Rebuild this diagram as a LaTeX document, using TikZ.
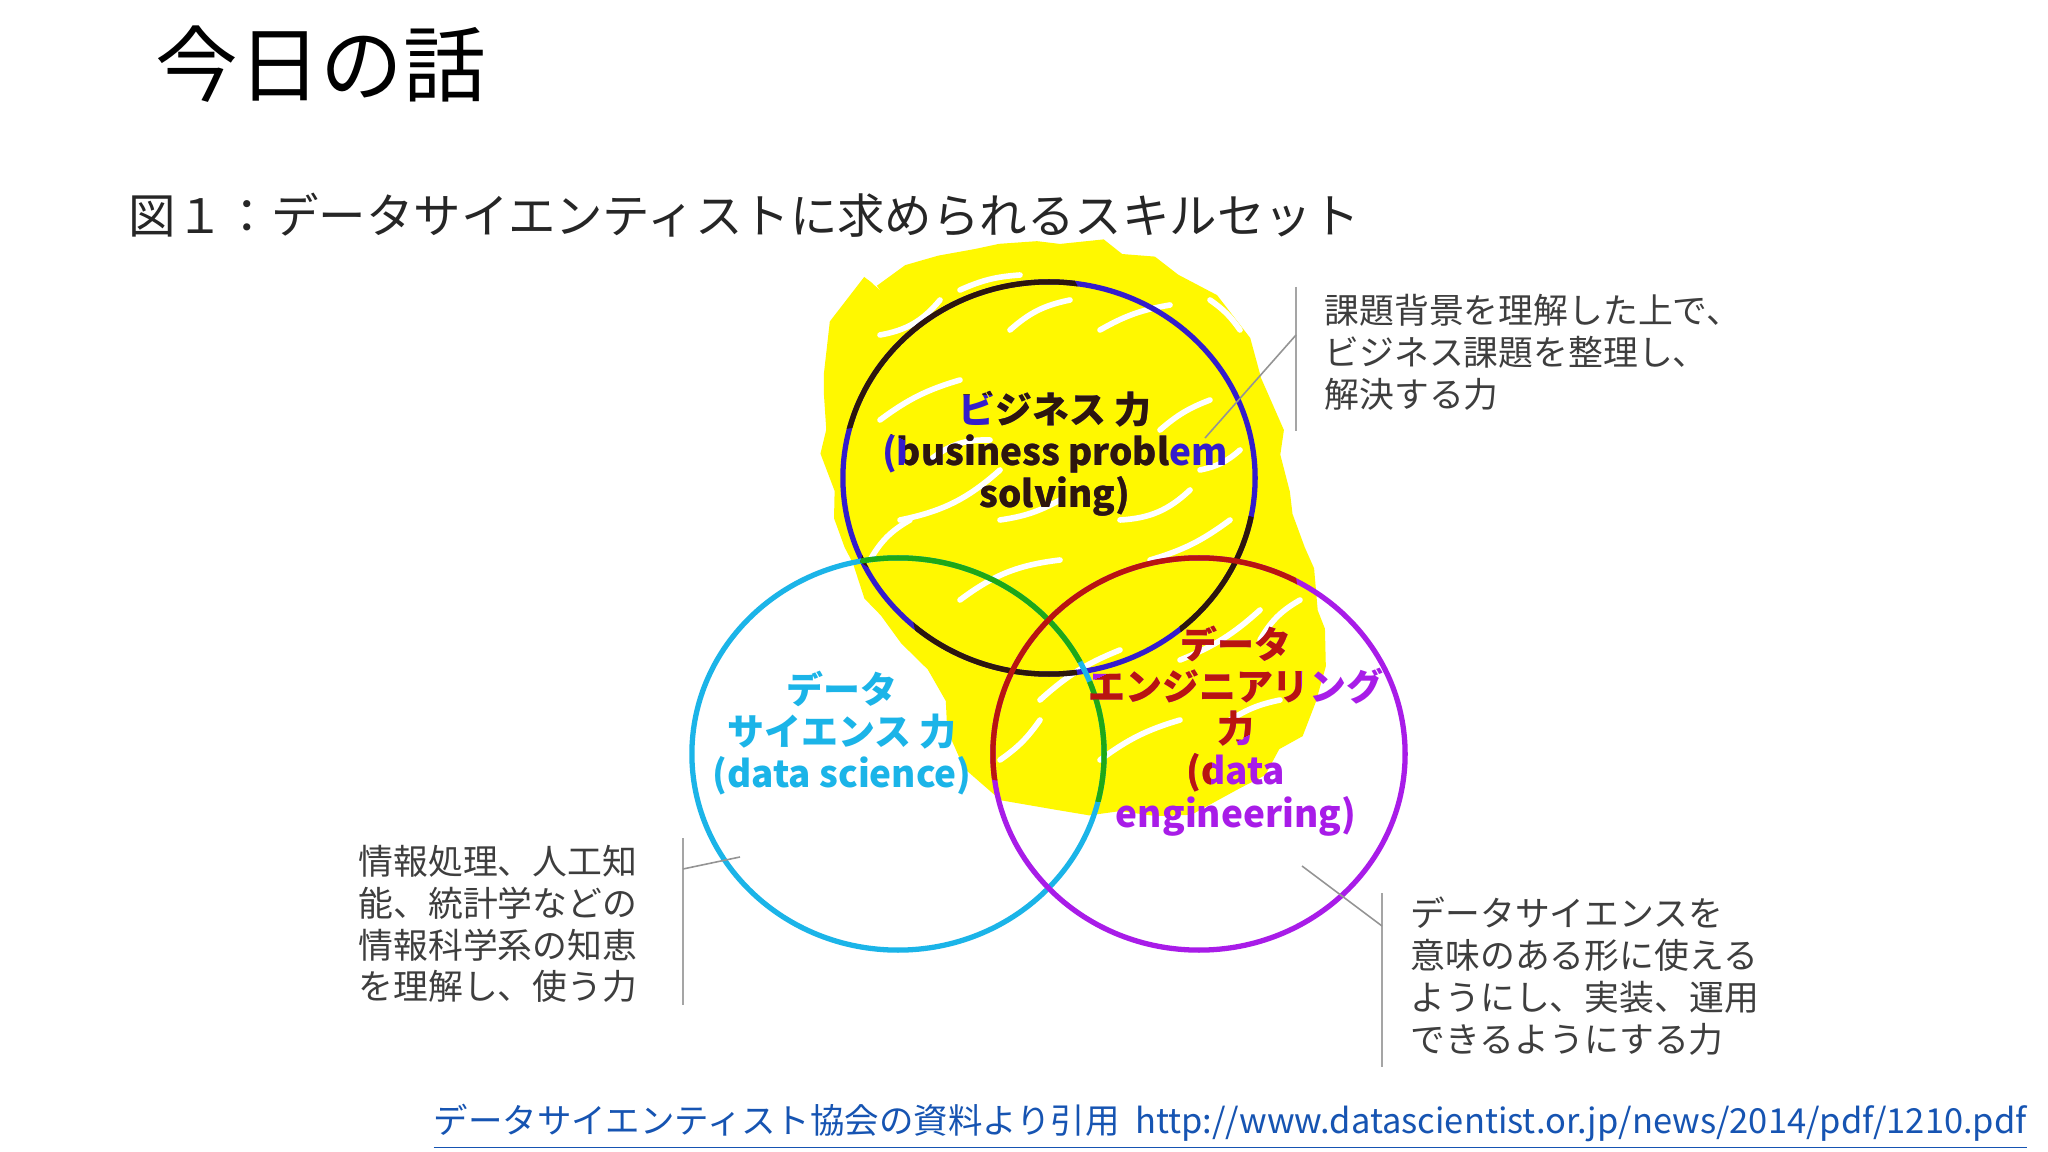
\documentclass[tikz,border=0pt]{standalone}
\usepackage{fontspec}
\usepackage{graphicx}
\setmainfont{Noto Sans CJK JP}
\usepackage{tikz}
\usetikzlibrary{shapes.geometric,decorations.pathmorphing}
\definecolor{bizblue}{RGB}{52,28,204}
\definecolor{dscyan}{RGB}{27,180,232}
\definecolor{depurp}{RGB}{168,28,232}
\definecolor{bizdark}{RGB}{45,22,12}
\definecolor{dsgreen}{RGB}{30,168,22}
\definecolor{dered}{RGB}{185,20,15}
\definecolor{hilite}{RGB}{255,248,0}
\definecolor{notegray}{RGB}{62,62,62}
\definecolor{bargray}{RGB}{165,165,165}
\definecolor{linkblue}{RGB}{22,84,178}
\tikzset{
  ring/.style={ellipse,draw,line width=1.5pt,minimum width=4.12cm,minimum height=3.92cm,inner sep=0pt},
  lbl/.style={align=center,font=\fontsize{10.5}{12}\selectfont\bfseries,inner sep=0pt},
  note/.style={anchor=west,align=left,text=notegray,font=\fontsize{9.9}{11.9}\selectfont,inner sep=0pt},
  bar/.style={draw=bargray,line width=0.7pt},
  lead/.style={draw=bargray!90!black,line width=0.45pt},
  gap/.style={white,line width=1.6pt,line cap=round},
}
% circles and their labels; #1 name suffix, #2-#4 colours
\newcommand{\skillset}[4]{%
  \node[ring,draw=#2] (biz#1) at (1049,478) {};
  \node[ring,draw=#3] (ds#1) at (898,754) {};
  \node[ring,draw=#4] (de#1) at (1199,754) {};
  \node[lbl,text=#2] (bizt#1) at (1055,454) {ビジネス 力\\(business problem\\solving)};
  \node[lbl,text=#3] (dst#1) at (842,733) {データ\\サイエンス 力\\(data science)};
  \node[lbl,text=#4] (det#1) at (1236,731) {データ\\エンジニアリング\\力\\(data\\engineering)};
}

\begin{document}
\begin{tikzpicture}[x=0.01cm,y=-0.01cm]
  \useasboundingbox[fill=white] (0,0) rectangle (2048,1152);
  \pgfmathsetseed{7}
  \node[anchor=west,inner sep=0pt,font=\fontsize{23.5}{28}\selectfont] (ttl) at (155,64) {今日の話};
  \node[anchor=west,inner sep=0pt,font=\fontsize{13.5}{16}\selectfont,text=black!85] (cap) at (128,215)
    {図１：データサイエンティストに求められるスキルセット};
  % highlighter scribble
  \filldraw[hilite,line width=3pt,decorate,decoration={random steps,segment length=10pt,amplitude=2.5pt}]
    plot[smooth cycle] coordinates {(842,325) (880,290) (940,262) (1000,250) (1060,250) (1120,260)
      (1175,280) (1210,305) (1240,345) (1262,395) (1275,455) (1288,515) (1308,570) (1318,630)
      (1308,700) (1275,745) (1235,783) (1185,798) (1120,805) (1055,803) (1005,788) (978,755)
      (950,700) (905,640) (870,595) (850,545) (840,490) (832,430) (830,375)};
  \foreach \xa/\ya/\xb/\yb/\bd in {880/420/960/380/10, 900/520/1000/470/-15, 1100/330/1170/305/10,
    960/600/1060/560/15, 1150/560/1230/520/-10, 1040/700/1120/650/10, 1180/660/1260/610/-10,
    880/335/940/300/-20, 1010/330/1070/300/15, 1160/430/1210/400/10, 1000/520/1060/500/-10,
    1100/760/1180/720/10, 930/460/990/440/20, 1200/470/1240/450/-15, 1210/300/1240/330/10,
    1260/640/1300/600/15, 1000/760/1040/720/-10, 960/290/1020/275/10, 1120/520/1190/490/-20,
    1230/720/1280/700/10, 870/560/910/520/15}
    \draw[gap] (\xa,\ya) to[bend left=\bd] (\xb,\yb);
  % three skills
  \skillset{}{bizblue}{dscyan}{depurp}
  \begin{scope}[even odd rule]
    \clip (840,430) -- (828,380) -- (845,322) -- (885,285) -- (945,262) -- (1000,268)
      -- (1068,268) -- (1085,300) -- (1130,305) -- (1175,345) -- (1190,420) -- (1168,445)
      -- (1170,470) -- (1215,505) -- (1262,520) -- (1295,570) -- (1302,620) -- (1300,710)
      -- (1265,725) -- (1212,755) -- (1210,790) -- (1150,800) -- (1098,802) -- (985,778)
      -- (955,700) -- (915,630) -- (905,585) -- (880,575) -- (860,562) -- (868,540) -- (870,490)
      -- (905,470) -- (905,440) -- (870,425) -- cycle
      (1075,664) -- (1178,617) -- (1182,640) -- (1080,686) -- cycle
      (955,395) -- (995,395) -- (995,432) -- (955,432) -- cycle;
    \skillset{h}{bizdark}{dsgreen}{dered}
  \end{scope}
  % notes
  \node[note] (n1) at (1324,352) {課題背景を理解した上で、\\ビジネス課題を整理し、\\解決する力};
  \node[note] (n2) at (358,924) {情報処理、人工知\\能、統計学などの\\情報科学系の知恵\\を理解し、使う力};
  \node[note] (n3) at (1410,976) {データサイエンスを\\意味のある形に使える\\ようにし、実装、運用\\できるようにする力};
  \coordinate (b1t) at (1296,287); \coordinate (b1b) at (1296,431);
  \coordinate (b1k) at (1296,335); \coordinate (l1) at (1205,438);
  \coordinate (b2t) at (683,838); \coordinate (b2b) at (683,1005);
  \coordinate (b2k) at (683,869); \coordinate (l2) at (740,857);
  \coordinate (b3t) at (1382,893); \coordinate (b3b) at (1382,1067);
  \coordinate (b3k) at (1382,926); \coordinate (l3) at (1302,866);
  \draw[bar] (b1t) -- (b1b);
  \draw[bar] (b2t) -- (b2b);
  \draw[bar] (b3t) -- (b3b);
  \draw[lead] (b1k) -- (l1);
  \draw[lead] (b2k) -- (l2);
  \draw[lead] (b3k) -- (l3);
  \node[anchor=west,inner sep=0pt,text=linkblue,font=\fontsize{9.8}{11}\selectfont] (src) at (433,1127)
    {\underline{データサイエンティスト協会の資料より引用\ \ http://www.datascientist.or.jp/news/2014/pdf/1210.pdf}};
\end{tikzpicture}
\end{document}
